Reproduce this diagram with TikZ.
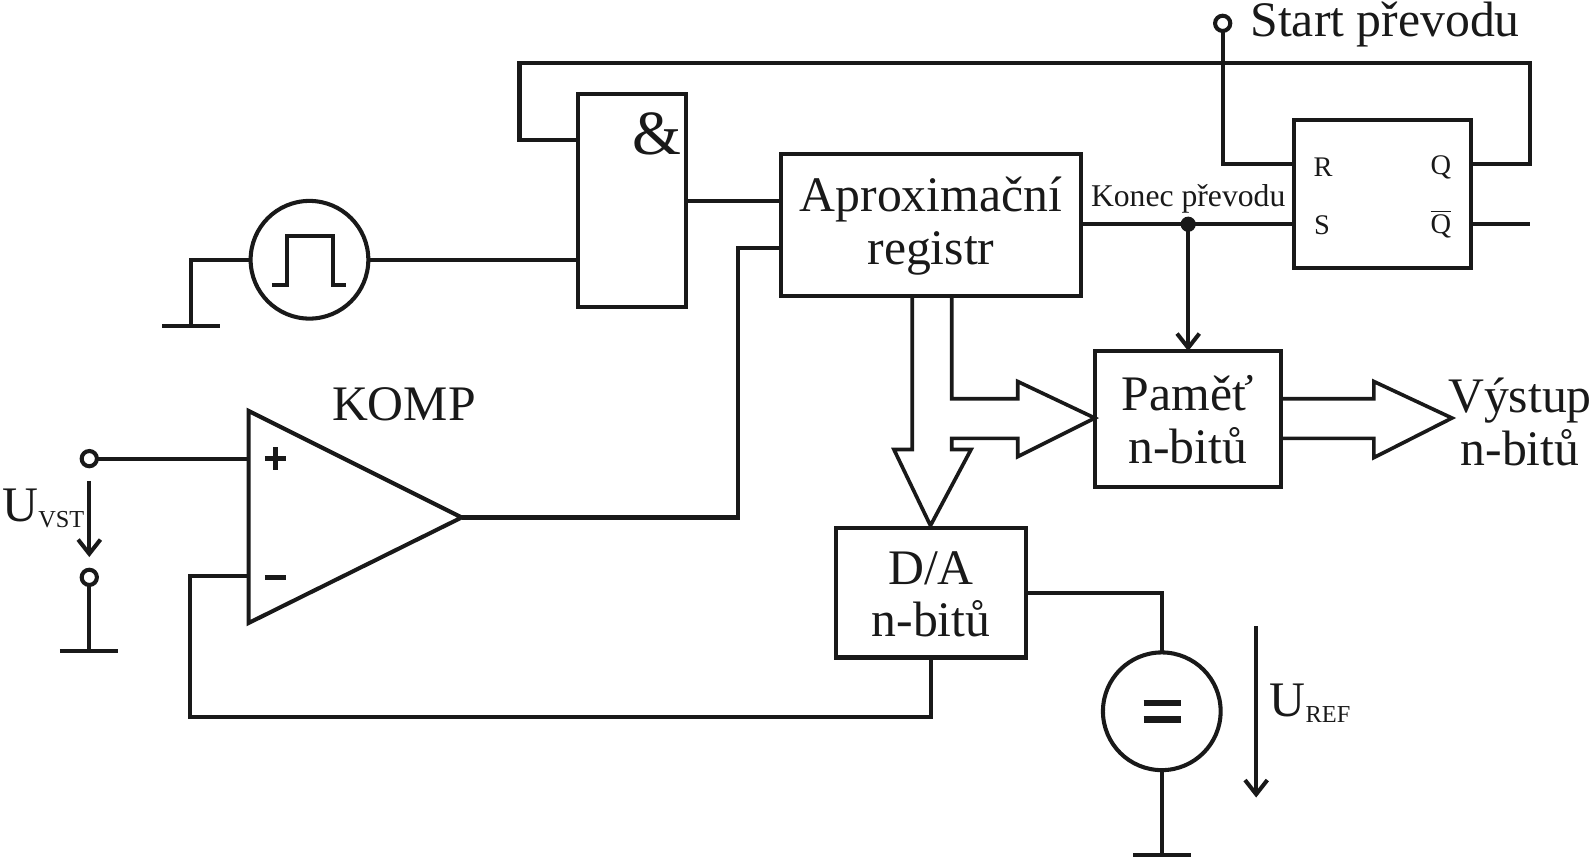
\documentclass[tikz,border=0pt]{standalone}
\usepackage{fontspec}
\setmainfont{Liberation Serif}
\usetikzlibrary{positioning, arrows.meta}
\newcommand{\topline}{\rule{0pt}{18pt}}
\tikzset{
	wire/.style={line width=2pt},
	box/.style={draw,line width=2pt,rectangle,outer sep=0pt,inner sep=0pt,align=center,font=\fontsize{24.5}{26}\selectfont},
	pin/.style={font=\fontsize{14}{14}\selectfont},
	big/.style={font=\fontsize{24.5}{26}\selectfont,align=center,inner sep=0pt},
	source/.style={draw,circle,line width=2pt,minimum size=58pt,outer sep=0pt,inner sep=0pt},
	terminal/.style={draw,circle,line width=2pt,fill=white,minimum size=7.5pt,outer sep=0pt,inner sep=0pt},
	vee/.style={-{Straight Barb[length=7pt,width=11pt,line width=2pt]}}
}
\begin{document}
\begin{tikzpicture}[x=0.5pt,y=-0.5pt,color={black!90}]
	\useasboundingbox (0,0) rectangle (1568,845);
	% blocks
	\node (andgate)[box,minimum width=53pt,minimum height=105pt] at (623,198){};
	\node (sar)[box,minimum width=147.5pt,minimum height=70pt] at (917.5,222){\topline Aproximační\\registr};
	\node (flop)[box,minimum width=87.5pt,minimum height=73pt] at (1362.5,191){};
	\node (mem)[box,minimum width=91.5pt,minimum height=67pt] at (1170.5,413){\topline Paměť\\n-bitů};
	\node (dac)[box,minimum width=93.5pt,minimum height=64pt] at (917.5,584){\topline D/A\\n-bitů};
	\node (pulse)[source] at (305,256){};
	\node (refsrc)[source] at (1145,701){};
	% terminals
	\node (start)[terminal] at (1205,23){};
	\node (inp)[terminal] at (88,452){};
	\node (inm)[terminal] at (88,569){};
	% comparator
	\coordinate (kompa) at (245,405);
	\coordinate (kompb) at (245,614);
	\coordinate (kompo) at (455,510);
	\coordinate (kompp) at (245,452);
	\coordinate (kompm) at (245,568);
	\draw[wire,line join=miter] (kompa)--(kompo)--(kompb)--cycle;
	% pins of the blocks
	\coordinate (andt) at (570,138);
	\coordinate (andm) at (570,256);
	\coordinate (ando) at (676,198);
	\coordinate (sara) at (770,198);
	\coordinate (sarb) at (770,244);
	\coordinate (saro) at (1065,221);
	\coordinate (flopr) at (1275,162);
	\coordinate (flops) at (1275,221);
	\coordinate (flopq) at (1450,162);
	\coordinate (flopn) at (1450,221);
	\coordinate (flopend) at (1508,221);
	\coordinate (dacr) at (1011,584);
	\coordinate (memt) at (1171,346);
	\node (done)[circle,fill,inner sep=0pt,minimum size=7.5pt] at (1171,221){};
	% grounds
	\coordinate (gnda) at (160,321);
	\coordinate (gndb) at (217,321);
	\coordinate (gndc) at (59,642);
	\coordinate (gndd) at (116,642);
	\coordinate (gnde) at (1117,843);
	\coordinate (gndf) at (1174,843);
	\draw[wire] (gnda)--(gndb);
	\draw[wire] (gndc)--(gndd);
	\draw[wire] (gnde)--(gndf);
	\draw[wire] (pulse.west)-|(188,321);
	\draw[wire] (inm.south)--(88,642);
	\draw[wire] (refsrc.south)--(1145,843);
	% wires
	\draw[wire] (pulse.east)--(andm);
	\draw[wire] (ando)--(sara);
	\draw[wire] (andt)-|(512,62)-|(1508,162)--(flopq);
	\draw[wire] (start.south)|-(flopr);
	\draw[wire] (saro)--(flops);
	\draw[wire] (flopn)--(flopend);
	\draw[wire,vee] (done.center)--(memt);
	\draw[wire] (inp.east)--(kompp);
	\draw[wire] (kompo)-|(727,244)--(sarb);
	\draw[wire] (kompm)-|(187,707)-|(dac.south);
	\draw[wire] (dacr)-|(refsrc.north);
	% bus arrows
	\draw[wire,line width=1.8pt] (899,292)--(899,443)--(881,443)--(917,518)--(957,443)--(938,443)--(938,432)--(1003,432)--(1003,450)--(1079,412)--(1003,376)--(1003,393)--(938,393)--(938,292);
	\draw[wire,line width=1.8pt] (1262,393)--(1354,393)--(1354,376)--(1431,412)--(1354,451)--(1354,432)--(1262,432);
	% voltage arrows
	\draw[wire,vee] (88,474)--(88,549);
	\draw[wire,vee] (1238,617)--(1238,786);
	% symbols
	\draw[wire] (268,281)--(283,281)--(283,233)--(328,233)--(328,281)--(341,281);
	\draw[line width=3.2pt] (1127,693)--(1164,693);
	\draw[line width=3.2pt] (1127,709)--(1164,709);
	\draw[line width=2.5pt] (261,452)--(282,452);
	\draw[line width=2.5pt] (271.5,441)--(271.5,463);
	\draw[line width=2.5pt] (261,569)--(282,569);
	% labels
	\node (andlabel)[inner sep=0pt,font=\fontsize{31}{31}\selectfont] at (647,132){\&};
	\node (rlabel)[pin] at (1304,165){R};
	\node (qlabel)[pin] at (1420,165){Q};
	\node (slabel)[pin] at (1303,222){S};
	\node (nlabel)[pin] at (1420,221){$\overline{\mbox{Q}}$};
	\node (donelabel)[font=\fontsize{15.6}{15}\selectfont,inner sep=0pt] at (1171,196){Konec převodu};
	\node (startlabel)[big,anchor=base west] at (1232,36){Start převodu};
	\node (outlabel)[big] at (1498,416){Výstup\\n-bitů};
	\node (komplabel)[big] at (398,398){KOMP};
	\node (vstlabel)[big,anchor=base west] at (2,514){U{\fontsize{12}{12}\selectfont\raisebox{-3pt}{VST}}};
	\node (reflabel)[big,anchor=base west] at (1251,706){U{\fontsize{12}{12}\selectfont\raisebox{-3pt}{REF}}};
\end{tikzpicture}
\end{document}
